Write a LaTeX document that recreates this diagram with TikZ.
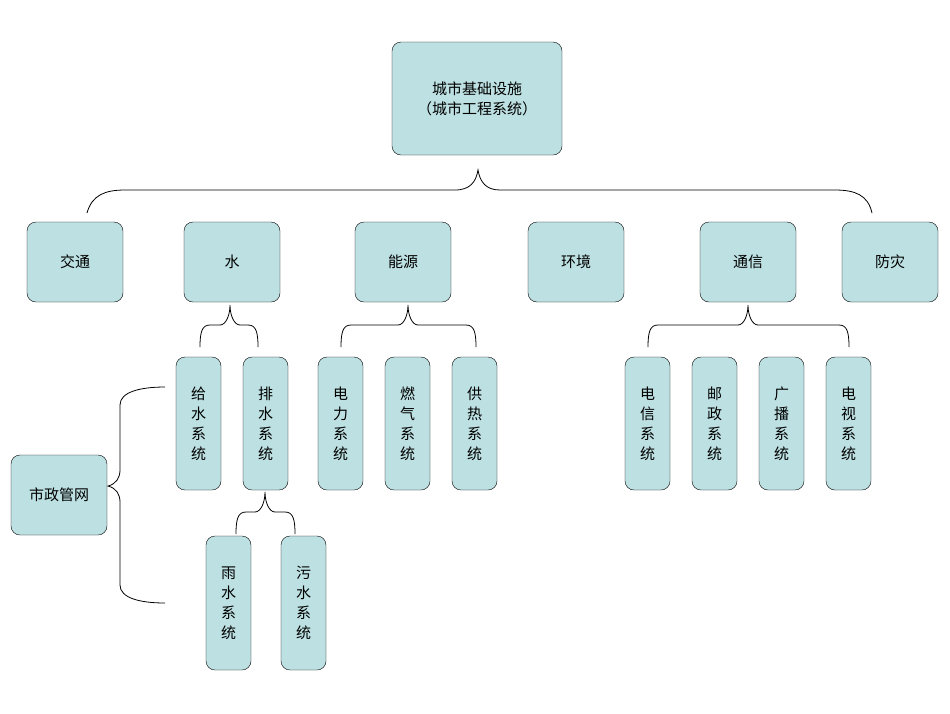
\documentclass[tikz,border=0pt]{standalone}
\usepackage{fontspec}
\newfontfamily\cjk{Noto Sans CJK SC}
\begin{document}
\begin{tikzpicture}[x=1pt,y=-1pt,
  bx/.style={draw=black,fill={rgb,255:red,189;green,224;blue,226},rounded corners=9pt,font=\cjk\fontsize{15}{20}\selectfont,align=center,inner sep=0pt},
  br/.style={draw=black,line width=0.8pt}]
\useasboundingbox (0,0) rectangle (950,713);
\newcommand\bx[6]{\node[bx,minimum width=#4-#2,minimum height=#5-#3] (#1) at ({(#2+#4)/2},{(#3+#5)/2}) {#6};}
\bx{top}{392}{42}{562}{155}{城市基础设施\\（城市工程系统）}
\bx{jt}{27}{222}{123}{302}{交通}
\bx{sh}{184}{222}{280}{302}{水}
\bx{ny}{355}{222}{451}{302}{能源}
\bx{hj}{528}{222}{624}{302}{环境}
\bx{tx}{700}{222}{796}{302}{通信}
\bx{fz}{842}{222}{938}{302}{防灾}
\bx{gs}{176}{357}{221}{490}{给\\水\\系\\统}
\bx{ps}{243}{357}{288}{490}{排\\水\\系\\统}
\bx{dl}{318}{357}{363}{490}{电\\力\\系\\统}
\bx{rq}{385}{357}{430}{490}{燃\\气\\系\\统}
\bx{gr}{452}{357}{497}{490}{供\\热\\系\\统}
\bx{dx}{625}{357}{670}{490}{电\\信\\系\\统}
\bx{yz}{692}{357}{737}{490}{邮\\政\\系\\统}
\bx{gb}{759}{357}{804}{490}{广\\播\\系\\统}
\bx{ds}{826}{357}{871}{490}{电\\视\\系\\统}
\bx{ys}{206}{536}{251}{670}{雨\\水\\系\\统}
\bx{ws}{281}{536}{326}{670}{污\\水\\系\\统}
\bx{sz}{11}{455}{107}{535}{市政管网}
% top brace
\draw[br] (87,213) .. controls (92,195) and (105,190) .. (125,190) -- (455,190) .. controls (470,190) and (476,182) .. (478,170)
  .. controls (480,182) and (486,190) .. (500,190) -- (835,190) .. controls (855,190) and (868,195) .. (872,213);
% small braces
\newcommand\brc[4]{\draw[br] (#1,#4) .. controls (#1,{#4-15}) and (#1+2,{#4-22}) .. (#1+10,{#4-22}) -- ({#3-10},{#4-22})
 .. controls ({#3-4},{#4-22}) and (#3,{#4-32}) .. (#3,{#4-42}) .. controls (#3,{#4-32}) and ({#3+4},{#4-22}) .. ({#3+10},{#4-22})
 -- ({#2-10},{#4-22}) .. controls ({#2-2},{#4-22}) and (#2,{#4-15}) .. (#2,#4);}
\brc{200}{258}{230}{347}
\brc{341}{476}{408}{347}
\brc{648}{849}{748}{347}
\brc{236}{295}{265}{534}
% left brace
\draw[br] (165,387) .. controls (140,387) and (120,392) .. (120,405) -- (120,470) .. controls (120,478) and (116,484) .. (108,486)
  .. controls (116,488) and (120,494) .. (120,502) -- (120,585) .. controls (120,598) and (140,603) .. (165,603);
\end{tikzpicture}
\end{document}
